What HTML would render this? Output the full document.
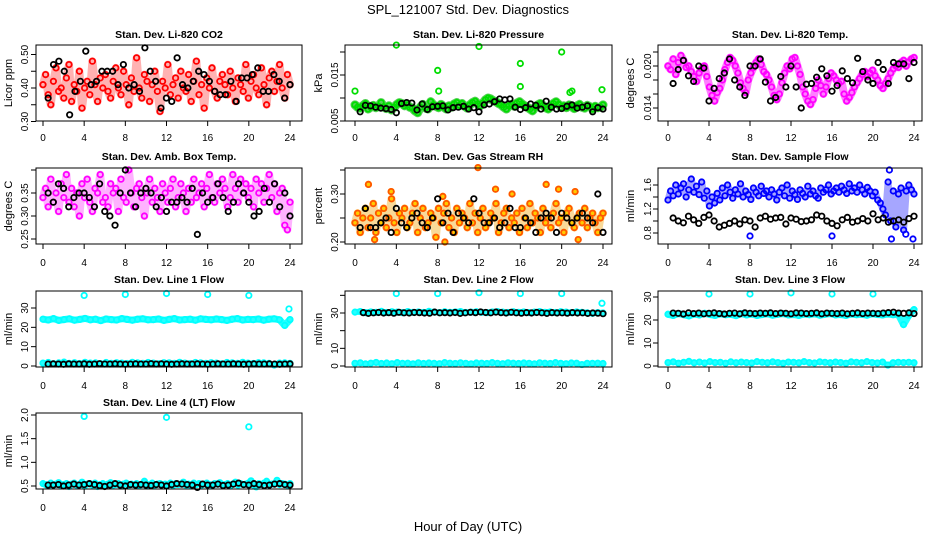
<!DOCTYPE html>
<html><head><meta charset="utf-8"><style>
html,body{margin:0;padding:0;background:#fff;}
svg{display:block;font-family:"Liberation Sans Narrow","Liberation Sans",sans-serif;}
</style></head><body>
<svg id="chart" width="936" height="540" viewBox="0 0 936 540">
<text x="468" y="14" font-size="13" text-anchor="middle">SPL_121007  Std. Dev. Diagnostics</text>
<text x="468" y="531" font-size="13" text-anchor="middle">Hour of Day (UTC)</text>
</svg>
<script>
// ---- data ----
const xTicks = [0,4,8,12,16,20,24];
const co2Main = [0.41,0.44,0.38,0.35,0.42,0.46,0.39,0.40,0.37,0.43,0.47,0.36,0.41,0.39,0.45,0.34,0.40,0.42,0.38,0.48,0.41,0.36,0.43,0.40,0.44,0.39,0.37,0.42,0.46,0.40,0.38,0.45,0.41,0.35,0.43,0.39,0.49,0.40,0.37,0.44,0.42,0.36,0.41,0.45,0.39,0.33,0.42,0.40,0.47,0.38,0.41,0.43,0.37,0.45,0.40,0.39,0.44,0.36,0.42,0.48,0.38,0.41,0.34,0.43,0.40,0.46,0.39,0.37,0.42,0.44,0.41,0.38,0.45,0.40,0.36,0.43,0.41,0.39,0.47,0.37,0.42,0.44,0.40,0.38,0.46,0.41,0.35,0.43,0.45,0.39,0.42,0.47,0.40,0.37,0.44,0.41];
const co2Black = [0.37,0.47,0.48,0.45,0.32,0.39,0.42,0.51,0.41,0.42,0.45,0.45,0.45,0.41,0.47,0.40,0.41,0.39,0.52,0.45,0.42,0.34,0.37,0.36,0.49,0.41,0.40,0.42,0.45,0.44,0.42,0.39,0.38,0.38,0.42,0.36,0.43,0.43,0.44,0.46,0.39,0.39,0.44,0.42,0.37,0.41];
const presMain = [0.0085,0.0080,0.0078,0.0083,0.0088,0.0076,0.0080,0.0084,0.0079,0.0082,0.0090,0.0081,0.0077,0.0083,0.0074,0.0080,0.0086,0.0090,0.0088,0.0083,0.0085,0.0080,0.0078,0.0072,0.0068,0.0080,0.0086,0.0078,0.0076,0.0092,0.0085,0.0082,0.0079,0.0086,0.0080,0.0076,0.0083,0.0080,0.0087,0.0090,0.0084,0.0088,0.0082,0.0078,0.0085,0.0090,0.0093,0.0087,0.0083,0.0089,0.0096,0.0100,0.0098,0.0094,0.0092,0.0088,0.0085,0.0080,0.0076,0.0083,0.0086,0.0082,0.0089,0.0092,0.0087,0.0083,0.0080,0.0076,0.0072,0.0080,0.0085,0.0088,0.0084,0.0079,0.0076,0.0082,0.0088,0.0092,0.0086,0.0080,0.0083,0.0079,0.0085,0.0081,0.0077,0.0083,0.0086,0.0080,0.0078,0.0084,0.0081,0.0076,0.0082,0.0079,0.0080,0.0085];
const presOutHours = [0,4,8,8.1,12,16,16,20,20.8,21,23.9];
const presOutVals = [0.0115,0.0215,0.0160,0.0115,0.0212,0.0175,0.0125,0.0200,0.0112,0.0115,0.0118];
const presBlack = [0.0070,0.0084,0.0083,0.0080,0.0078,0.0077,0.0075,0.0068,0.0088,0.0090,0.0089,0.0074,0.0087,0.0075,0.0081,0.0082,0.0083,0.0074,0.0079,0.0080,0.0082,0.0076,0.0079,0.0070,0.0085,0.0087,0.0092,0.0098,0.0096,0.0098,0.0080,0.0075,0.0079,0.0087,0.0084,0.0076,0.0093,0.0080,0.0076,0.0077,0.0082,0.0085,0.0078,0.0080,0.0083,0.0070,0.0079,0.0076];
const tempMain = [0.0200,0.0195,0.0210,0.0188,0.0205,0.0215,0.0208,0.0198,0.0200,0.0192,0.0185,0.0178,0.0190,0.0196,0.0200,0.0185,0.0170,0.0158,0.0150,0.0162,0.0168,0.0180,0.0195,0.0205,0.0212,0.0208,0.0200,0.0190,0.0176,0.0168,0.0162,0.0180,0.0190,0.0198,0.0205,0.0210,0.0202,0.0192,0.0188,0.0180,0.0170,0.0158,0.0152,0.0160,0.0176,0.0190,0.0200,0.0196,0.0210,0.0212,0.0200,0.0188,0.0170,0.0160,0.0150,0.0145,0.0152,0.0168,0.0180,0.0172,0.0160,0.0170,0.0182,0.0190,0.0186,0.0180,0.0175,0.0178,0.0160,0.0150,0.0155,0.0162,0.0170,0.0176,0.0182,0.0188,0.0192,0.0185,0.0190,0.0194,0.0186,0.0180,0.0172,0.0168,0.0175,0.0182,0.0190,0.0196,0.0200,0.0198,0.0205,0.0208,0.0200,0.0206,0.0210,0.0212];
const tempBlack = [0.0175,0.0195,0.0208,0.0186,0.0178,0.0200,0.0197,0.0150,0.0168,0.0182,0.0190,0.0210,0.0180,0.0170,0.0158,0.0200,0.0200,0.0210,0.0177,0.0150,0.0155,0.0185,0.0170,0.0200,0.0170,0.0140,0.0174,0.0175,0.0184,0.0196,0.0186,0.0164,0.0172,0.0193,0.0182,0.0176,0.0211,0.0192,0.0180,0.0175,0.0205,0.0195,0.0175,0.0205,0.0203,0.0203,0.0182,0.0205];
const boxMain = [0.34,0.36,0.32,0.38,0.33,0.35,0.31,0.37,0.34,0.39,0.33,0.36,0.32,0.35,0.30,0.37,0.34,0.38,0.33,0.31,0.36,0.35,0.39,0.33,0.34,0.32,0.37,0.35,0.36,0.31,0.38,0.34,0.33,0.40,0.35,0.32,0.36,0.37,0.34,0.30,0.35,0.38,0.33,0.36,0.34,0.31,0.37,0.35,0.33,0.36,0.38,0.32,0.34,0.37,0.35,0.31,0.36,0.33,0.38,0.34,0.35,0.37,0.32,0.36,0.39,0.34,0.33,0.37,0.35,0.38,0.36,0.32,0.34,0.39,0.36,0.33,0.38,0.35,0.37,0.34,0.36,0.32,0.38,0.35,0.37,0.33,0.36,0.39,0.34,0.37,0.31,0.35,0.36,0.28,0.27,0.33];
const boxBlack = [0.35,0.33,0.37,0.36,0.32,0.34,0.35,0.35,0.34,0.32,0.37,0.31,0.30,0.28,0.35,0.40,0.35,0.32,0.35,0.36,0.35,0.32,0.34,0.31,0.33,0.33,0.34,0.33,0.36,0.26,0.35,0.33,0.34,0.37,0.34,0.31,0.33,0.37,0.35,0.33,0.30,0.31,0.36,0.33,0.37,0.32,0.35,0.30];
const rhMain = [0.24,0.26,0.22,0.25,0.27,0.23,0.25,0.28,0.22,0.26,0.24,0.27,0.23,0.25,0.29,0.24,0.22,0.26,0.25,0.27,0.23,0.24,0.26,0.28,0.22,0.25,0.27,0.23,0.24,0.26,0.25,0.21,0.27,0.24,0.26,0.28,0.23,0.25,0.22,0.27,0.24,0.26,0.25,0.23,0.28,0.24,0.26,0.22,0.25,0.27,0.23,0.24,0.26,0.25,0.28,0.22,0.24,0.26,0.27,0.23,0.25,0.24,0.26,0.22,0.27,0.25,0.23,0.28,0.24,0.26,0.25,0.22,0.27,0.24,0.25,0.23,0.26,0.28,0.24,0.25,0.22,0.26,0.27,0.24,0.23,0.25,0.26,0.24,0.27,0.23,0.25,0.26,0.24,0.22,0.25,0.26];
const rhOutHours = [1.3,1.9,3.5,8.5,8.7,11.9,13.6,15.2,18.5,19.7,21.3,21.6];
const rhOutVals = [0.32,0.205,0.305,0.295,0.200,0.355,0.31,0.30,0.32,0.31,0.305,0.205];
const rhBlack = [0.23,0.27,0.23,0.23,0.24,0.25,0.22,0.27,0.24,0.23,0.25,0.26,0.24,0.23,0.25,0.29,0.24,0.26,0.22,0.26,0.25,0.24,0.29,0.26,0.24,0.24,0.25,0.23,0.24,0.27,0.23,0.23,0.25,0.24,0.22,0.25,0.26,0.25,0.22,0.26,0.25,0.24,0.25,0.26,0.25,0.24,0.30,0.22];
const flowMain = [1.35,1.50,1.42,1.60,1.45,1.55,1.62,1.40,1.52,1.70,1.48,1.58,1.44,1.65,1.38,1.50,1.25,1.40,1.30,1.46,1.35,1.55,1.42,1.60,1.48,1.38,1.52,1.45,1.62,1.40,1.50,1.44,1.36,1.55,1.48,1.42,1.58,1.46,1.50,1.40,1.52,1.45,1.35,1.48,1.55,1.42,1.60,1.38,1.50,1.44,1.36,1.52,1.46,1.40,1.58,1.45,1.50,1.42,1.38,1.55,1.48,1.52,1.60,1.45,1.50,1.55,1.48,1.58,1.52,1.46,1.62,1.50,1.55,1.48,1.60,1.52,1.45,1.56,1.50,1.42,1.48,1.35,1.30,1.20,1.10,1.65,1.00,1.50,0.90,1.45,1.55,0.85,1.50,1.60,1.52,1.45];
const flowOutHours = [8,16,21.6,21.8,23.2,23.9];
const flowOutVals = [0.75,0.75,1.85,0.70,0.78,0.70];
const flowBlack = [1.05,1.00,0.97,1.08,1.02,0.96,1.06,1.10,1.00,0.90,0.93,0.96,1.00,0.95,1.02,1.00,0.90,1.05,1.08,1.03,1.05,1.06,0.95,1.05,1.03,0.99,1.00,1.02,1.10,1.08,1.00,0.96,0.92,1.02,1.06,0.98,1.00,1.04,1.00,1.12,1.02,1.05,0.98,1.00,1.02,0.98,1.04,1.08];
const line1High = [24.2,23.8,24.5,23.6,24.0,24.4,23.7,24.1,24.6,23.9,24.2,23.5,24.3,24.0,23.8,24.5,24.1,23.7,24.2,24.4,23.9,24.0,24.3,23.6,24.1,24.5,23.8,24.0,24.2,23.7,24.4,24.1,23.9,24.3,24.0,23.6,24.2,24.5,23.8,24.1,24.0,24.3,23.7,24.2,24.4,23.9,21.0,24.0];
const line1Low = [1.5,1.8,1.2,1.6,2.0,1.4,1.7,1.3,1.9,1.5,1.6,1.2,1.8,1.4,1.7,1.5,1.3,1.9,1.6,1.4,1.8,1.5,1.2,1.7,1.6,1.4,1.9,1.5,1.3,1.8,1.6,1.4,1.7,1.5,1.2,1.8,1.6,1.4,1.9,1.5,1.3,1.7,1.6,1.4,0.5,1.5,1.6,1.4];
const line1OutHours = [4,8,12,16,20,23.9];
const line1OutVals = [36.5,37,37.5,37,36.5,29.5];
const line1Black = [1.0,1.1,1.0,0.9,1.1,1.0,1.0,1.1,0.9,1.0,1.2,1.0,1.0,1.1,1.0,0.9,1.0,1.1,1.0,1.0,1.2,1.0,1.1,1.0,0.9,1.0,1.1,1.0,1.0,1.1,1.0,0.9,1.0,1.1,1.0,1.0,1.1,1.0,0.9,1.0,1.1,1.0,1.0,1.1,1.0,0.9,1.0,1.1];
const line2High = [30.5,30.8,30.2,30.6,30.4,30.9,30.3,30.7,30.5,30.2,30.8,30.4,30.6,30.3,30.9,30.5,30.2,30.7,30.4,30.6,30.8,30.3,30.5,30.7,30.4,30.2,30.6,30.8,30.5,30.3,30.7,30.4,30.6,30.2,30.5,30.8,30.4,30.6,30.3,30.7,30.5,30.2,30.6,30.4,30.1,29.8,30.2,30.0];
const line2Low = [1.5,1.8,1.2,1.6,2.0,1.4,1.7,1.3,1.9,1.5,1.6,1.2,1.8,1.4,1.7,1.5,1.3,1.9,1.6,1.4,1.8,1.5,1.2,1.7,1.6,1.4,1.9,1.5,1.3,1.8,1.6,1.4,1.7,1.5,1.2,1.8,1.6,1.4,1.9,1.5,1.3,1.7,1.6,0.8,1.5,1.5,1.6,1.4];
const line2OutHours = [4,8,12,16,20,23.9];
const line2OutVals = [41,41,41.5,41,41,35.5];
const line2Black = [30.2,29.8,30.1,30.3,30.0,30.2,29.9,30.4,30.1,30.0,30.3,30.2,30.0,29.9,30.5,30.1,30.2,30.0,30.3,29.8,30.1,30.4,30.2,30.6,30.3,30.1,30.5,30.2,30.0,30.4,30.1,29.9,30.2,30.0,30.3,30.1,29.8,30.2,30.0,30.1,29.9,30.2,30.0,30.1,29.8,30.0,29.9,29.6];
const line3High = [22.5,22.0,22.8,22.3,21.8,22.6,22.2,22.9,22.4,22.0,22.7,22.3,22.5,21.9,22.8,22.2,22.6,22.0,22.4,22.7,22.1,22.5,22.8,22.2,22.4,22.0,22.6,22.3,22.7,22.1,22.5,22.8,22.2,22.4,22.0,22.6,22.3,22.5,22.1,22.7,22.4,22.2,22.6,22.3,22.5,18.0,22.0,24.5];
const line3Low = [1.5,1.8,1.2,1.6,2.0,1.4,1.7,1.3,1.9,1.5,1.6,1.2,1.8,1.4,1.7,1.5,1.3,1.9,1.6,1.4,1.8,1.5,1.2,1.7,1.6,1.4,1.9,1.5,1.3,1.8,1.6,1.4,1.7,1.5,1.2,1.8,1.6,1.4,1.9,1.5,1.3,1.7,0.4,1.4,1.6,1.5,1.6,1.4];
const line3OutHours = [4,8,12,16,20];
const line3OutVals = [31.3,31.3,31.8,31.3,31.3];
const line3Black = [23.0,22.9,22.6,23.1,22.8,23.0,22.7,22.9,23.1,22.8,22.6,22.9,23.0,22.7,23.1,22.9,22.8,23.0,22.9,23.1,22.8,23.0,22.9,22.7,23.1,23.0,22.8,22.9,23.1,22.7,23.0,22.9,22.8,23.0,22.7,22.9,23.1,22.8,23.0,22.9,22.8,23.0,23.2,23.4,23.0,22.9,23.1,22.8];
const line4Main = [0.55,0.53,0.50,0.56,0.52,0.54,0.57,0.51,0.53,0.55,0.49,0.54,0.56,0.52,0.53,0.58,0.50,0.54,0.55,0.52,0.56,0.49,0.53,0.55,0.51,0.54,0.57,0.52,0.53,0.55,0.50,0.54,0.56,0.52,0.54,0.53,0.55,0.51,0.54,0.60,0.50,0.53,0.56,0.52,0.54,0.55,0.53,0.54,0.52,0.56,0.51,0.55,0.53,0.54,0.58,0.52,0.54,0.50,0.56,0.53,0.55,0.52,0.54,0.56,0.53,0.51,0.55,0.54,0.57,0.52,0.53,0.55,0.50,0.54,0.58,0.52,0.55,0.53,0.54,0.56,0.61,0.52,0.48,0.55,0.53,0.56,0.60,0.52,0.54,0.55,0.62,0.53,0.55,0.54,0.52,0.55];
const line4OutHours = [4,12,20];
const line4OutVals = [1.97,1.95,1.75];
const line4Black = [0.52,0.52,0.53,0.50,0.52,0.54,0.52,0.53,0.55,0.53,0.51,0.49,0.52,0.55,0.52,0.50,0.53,0.52,0.53,0.52,0.51,0.53,0.52,0.50,0.53,0.55,0.54,0.53,0.52,0.47,0.54,0.52,0.52,0.54,0.51,0.52,0.54,0.56,0.53,0.52,0.55,0.53,0.51,0.52,0.54,0.55,0.53,0.52];

// ---- layout ----
const cols = [{bx0:36,bx1:302,h0:43,h24:290,yl:12,tl:28},{bx0:345,bx1:612,h0:355,h24:603,yl:322,tl:338},{bx0:658,bx1:922,h0:668,h24:914,yl:634,tl:651}];
const rows = [{by0:45,by1:121,lab:137,ty:38},{by0:168,by1:244,lab:262,ty:160},{by0:291,by1:367,lab:385,ty:283},{by0:413,by1:489,lab:507,ty:406}];
const NS = "http://www.w3.org/2000/svg";
const svg = document.getElementById("chart");
function mk(tag, attrs, parent){const e=document.createElementNS(NS,tag);for(const k in attrs)e.setAttribute(k,attrs[k]);(parent||svg).appendChild(e);return e;}

function panel(p){
  const c=cols[p.col], r=rows[p.row];
  const g=mk("g",{});
  
  
  const xs=h=>c.h0+(c.h24-c.h0)*h/24;
  const ys=v=>p.py0+(p.py1-p.py0)*(v-p.v0)/(p.v1-p.v0);
  const cx=(c.bx0+c.bx1)/2;
  const t=mk("text",{x:cx,y:r.ty,"font-size":10.5,"font-weight":"bold","text-anchor":"middle"},g);
  t.textContent=p.title;
  
  
  const yt=mk("text",{x:c.yl,y:(r.by0+r.by1)/2,"font-size":11,"text-anchor":"middle",transform:`rotate(-90 ${c.yl} ${(r.by0+r.by1)/2})`},g);
  yt.textContent=p.ylab;
  
  
  const pts=mk("g",{fill:"none","stroke-width":1.8},g);
  
  
  function series(s){
    const arr=s.data, x0=s.x0??0, x1=s.x1??24;
    const hx=i=>s.hours?s.hours[i]:x0+(x1-x0)*i/(arr.length-1);
    if(s.band){
      const d=arr.map((v,i)=>(i?"L":"M")+xs(hx(i)).toFixed(1)+","+ys(v).toFixed(1)).join("");
      const pl=mk("path",{d:d,fill:"none",stroke:s.bandColor||s.color,"stroke-width":s.band,"stroke-linejoin":"round","stroke-linecap":"round",opacity:s.bandOpacity??0.85},pts);
      
      
    }
    arr.forEach((v,i)=>{
      const h=hx(i);
      const y=ys(v); if(y<r.by0-3||y>r.by1+3)return;
      if(s.fill){const f=mk("circle",{cx:xs(h),cy:y,r:3.6,fill:s.fill,stroke:"none"},pts);
        
        }
      const e=mk("circle",{cx:xs(h),cy:y,r:2.7,stroke:s.color},pts);
      
      
    });
  }
  p.series.forEach(series);
  const b=mk("rect",{x:c.bx0,y:r.by0,width:c.bx1-c.bx0,height:r.by1-r.by0,fill:"none",stroke:"#000","stroke-width":1},g);
  
  
  xTicks.forEach(h=>{
    mk("line",{x1:xs(h),x2:xs(h),y1:r.by1,y2:r.by1+5,stroke:"#000"},g);
    const l=mk("text",{x:xs(h),y:r.lab+4,"font-size":10,"text-anchor":"middle"},g);
    l.textContent=h;
    
    
  });
  p.yticks.forEach(v=>{
    mk("line",{x1:c.bx0-5,x2:c.bx0,y1:ys(v),y2:ys(v),stroke:"#000"},g);
  });
  p.ylabels.forEach(v=>{
    const x=c.tl, y=ys(v);
    const l=mk("text",{x:x,y:y,"font-size":10,"text-anchor":"middle",transform:`rotate(-90 ${x} ${y})`},g);
    l.textContent=v;
    
    
  });
}
const red="#ff0000", blk="#000", mag="#ff00ff", grn="#00dd00", blu="#0000ff", cyn="#00ffff";
panel({name:"co2",col:0,row:0,title:"Stan. Dev. Li-820 CO2",ylab:"Licor ppm",v0:0.4,py0:88,v1:0.5,py1:54.5,yticks:[0.30,0.35,0.40,0.45,0.50],ylabels:["0.30","0.40","0.50"],
  series:[{data:co2Main,color:red,band:8,bandOpacity:0.3},{data:co2Black,color:blk,x0:0.5,x1:24}]});
panel({name:"pressure",col:1,row:0,title:"Stan. Dev. Li-820 Pressure",ylab:"kPa",v0:0.005,py0:121,v1:0.015,py1:75,yticks:[0.005,0.010,0.015,0.020],ylabels:["0.005","0.015"],
  series:[{data:presMain,color:grn,band:9,bandColor:"#11bb11",bandOpacity:0.7},{data:presOutVals,hours:presOutHours,color:grn},{data:presBlack,color:blk,x0:0.5,x1:24}]});
panel({name:"li820-temp",col:2,row:0,title:"Stan. Dev. Li-820 Temp.",ylab:"degrees C",v0:0.014,py0:108,v1:0.020,py1:66,yticks:[0.014,0.016,0.018,0.020,0.022],ylabels:["0.014","0.020"],
  series:[{data:tempMain,color:mag,band:8,bandOpacity:0.5},{data:tempBlack,color:blk,x0:0.5,x1:24}]});
panel({name:"box-temp",col:0,row:1,title:"Stan. Dev. Amb. Box Temp.",ylab:"degrees C",v0:0.25,py0:239,v1:0.40,py1:170,yticks:[0.25,0.30,0.35,0.40],ylabels:["0.25","0.30","0.35"],
  series:[{data:boxMain,color:mag,band:8,bandOpacity:0.3},{data:boxBlack,color:blk,x0:0.5,x1:24}]});
panel({name:"gas-rh",col:1,row:1,title:"Stan. Dev. Gas Stream RH",ylab:"percent",v0:0.20,py0:242,v1:0.30,py1:194,yticks:[0.20,0.25,0.30,0.35],ylabels:["0.20","0.30"],
  series:[{data:rhMain,color:"#ff5500",fill:"#ffcc00",band:8,bandColor:"#f0a000",bandOpacity:0.4},{data:rhOutVals,hours:rhOutHours,color:"#ff5500",fill:"#ffcc00"},{data:rhBlack,color:blk,x0:0.5,x1:24}]});
panel({name:"sample-flow",col:2,row:1,title:"Stan. Dev. Sample Flow",ylab:"ml/min",v0:0.8,py0:233,v1:1.6,py1:185,yticks:[0.8,1.0,1.2,1.4,1.6],ylabels:["0.8","1.2","1.6"],
  series:[{data:flowMain,color:blu,band:7,bandOpacity:0.35},{data:flowOutVals,hours:flowOutHours,color:blu},{data:flowBlack,color:blk,x0:0.5,x1:24}]});
panel({name:"line1-flow",col:0,row:2,title:"Stan. Dev. Line 1 Flow",ylab:"ml/min",v0:0,py0:366,v1:30,py1:308,yticks:[0,10,20,30],ylabels:["0","10","20","30"],
  series:[{data:line1High,color:cyn,band:7},{data:line1Low,color:cyn,band:5},{data:line1OutVals,hours:line1OutHours,color:cyn},{data:line1Black,color:blk,x0:0.5,x1:24}]});
panel({name:"line2-flow",col:1,row:2,title:"Stan. Dev. Line 2 Flow",ylab:"ml/min",v0:0,py0:366,v1:30,py1:313,yticks:[0,10,20,30,40],ylabels:["0","10","30"],
  series:[{data:line2High,color:cyn,band:6},{data:line2Low,color:cyn,band:5},{data:line2OutVals,hours:line2OutHours,color:cyn},{data:line2Black,color:blk,x0:0.8,x1:24}]});
panel({name:"line3-flow",col:2,row:2,title:"Stan. Dev. Line 3 Flow",ylab:"ml/min",v0:0,py0:366,v1:30,py1:297,yticks:[0,10,20,30],ylabels:["0","10","20","30"],
  series:[{data:line3High,color:cyn,band:7},{data:line3Low,color:cyn,band:5},{data:line3OutVals,hours:line3OutHours,color:cyn},{data:line3Black,color:blk,x0:0.5,x1:24}]});
panel({name:"line4-flow",col:0,row:3,title:"Stan. Dev. Line 4 (LT) Flow",ylab:"ml/min",v0:0.5,py0:486,v1:2.0,py1:415,yticks:[0.5,1.0,1.5,2.0],ylabels:["0.5","1.0","1.5","2.0"],
  series:[{data:line4Main,color:cyn,band:6},{data:line4OutVals,hours:line4OutHours,color:cyn},{data:line4Black,color:blk,x0:0.5,x1:24}]});
</script>
</body></html>
